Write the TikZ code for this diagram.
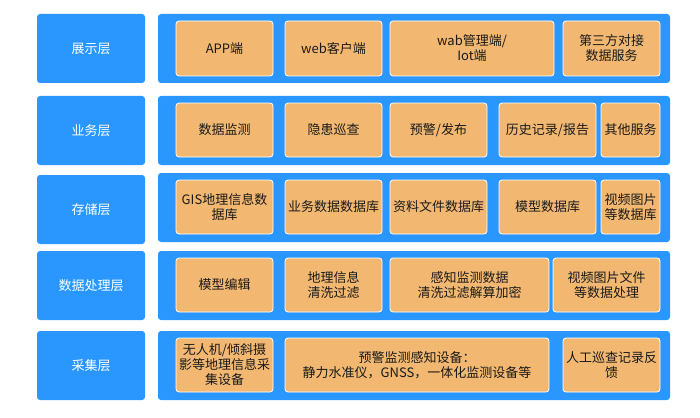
\documentclass[tikz,border=0pt]{standalone}
\usepackage{fontspec}
\setmainfont{Noto Sans CJK SC}
\definecolor{lblue}{HTML}{2997FF}
\definecolor{lorange}{HTML}{F2B872}
\definecolor{ltext}{HTML}{1A1A1A}
\newcommand{\mybox}[7]{%
  \node[#1, minimum width={(#5-#3)*1pt}, minimum height={(#6-#4)*1pt}] (#2) at ({(#3+#5)/2},{(#4+#6)/2}) {#7};}
\begin{document}
\begin{tikzpicture}[x=1pt,y=-1pt,
  labelbox/.style={fill=lblue, draw=none, rounded corners=3pt, inner sep=0pt, text=white, font=\fontsize{13}{15}\selectfont, align=center},
  contbox/.style={fill=lblue, draw=none, rounded corners=3pt, inner sep=0pt},
  itembox/.style={fill=lorange, draw=white, line width=0.8pt, rounded corners=3pt, inner sep=0pt, text=ltext, font=\fontsize{13}{15}\selectfont, align=center}]
\useasboundingbox (0,0) rectangle (700,417);
% row 1
\mybox{labelbox}{L1}{37}{14}{145}{83}{展示层}
\mybox{contbox}{C1}{158}{14}{670}{83}{}
\mybox{itembox}{a1}{176}{21}{273}{76}{APP端}
\mybox{itembox}{a2}{285}{21}{382}{76}{web客户端}
\mybox{itembox}{a3}{390}{21}{554}{76}{wab管理端/\\Iot端}
\mybox{itembox}{a4}{563}{21}{660}{76}{第三方对接\\数据服务}
% row 2
\mybox{labelbox}{L2}{37}{96}{145}{165}{业务层}
\mybox{contbox}{C2}{158}{96}{670}{165}{}
\mybox{itembox}{b1}{176}{103}{273}{157}{数据监测}
\mybox{itembox}{b2}{285}{103}{382}{157}{隐患巡查}
\mybox{itembox}{b3}{390}{103}{487}{157}{预警/发布}
\mybox{itembox}{b4}{499}{103}{596}{157}{历史记录/报告}
\mybox{itembox}{b5}{601}{103}{660}{157}{其他服务}
% row 3
\mybox{labelbox}{L3}{37}{175}{145}{244}{存储层}
\mybox{contbox}{C3}{158}{173}{670}{242}{}
\mybox{itembox}{c1}{176}{180}{273}{234}{GIS地理信息数\\据库}
\mybox{itembox}{c2}{285}{180}{382}{234}{业务数据数据库}
\mybox{itembox}{c3}{390}{180}{487}{234}{资料文件数据库}
\mybox{itembox}{c4}{499}{180}{596}{234}{模型数据库}
\mybox{itembox}{c5}{601}{180}{660}{234}{视频图片\\等数据库}
% row 4
\mybox{labelbox}{L4}{37}{251}{145}{320}{数据处理层}
\mybox{contbox}{C4}{158}{251}{670}{320}{}
\mybox{itembox}{d1}{176}{258}{273}{312}{模型编辑}
\mybox{itembox}{d2}{285}{258}{382}{312}{地理信息\\清洗过滤}
\mybox{itembox}{d3}{390}{258}{549}{312}{感知监测数据\\清洗过滤解算加密}
\mybox{itembox}{d4}{553}{258}{660}{312}{视频图片文件\\等数据处理}
% row 5
\mybox{labelbox}{L5}{37}{331}{145}{400}{采集层}
\mybox{contbox}{C5}{158}{331}{670}{400}{}
\mybox{itembox}{e1}{176}{338}{273}{392}{无人机/倾斜摄\\影等地理信息采\\集设备}
\mybox{itembox}{e2}{285}{338}{549}{392}{预警监测感知设备：\\静力水准仪，GNSS，一体化监测设备等}
\mybox{itembox}{e3}{563}{338}{660}{392}{人工巡查记录反\\馈}
\end{tikzpicture}
\end{document}
